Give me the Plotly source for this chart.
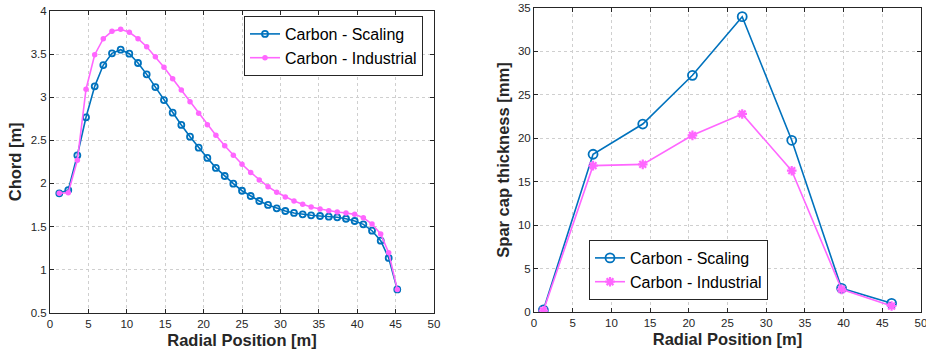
import plotly.graph_objects as go

# Left chart: chord distribution
chord_r = [1.21, 2.38, 3.56, 4.69, 5.82, 6.94, 8.07, 9.2, 10.33, 11.46, 12.59, 13.72,
           14.84, 15.97, 17.1, 18.23, 19.36, 20.49, 21.6, 22.75, 23.87, 25.0, 26.13,
           27.25, 28.39, 29.52, 30.64, 31.77, 32.9, 34.0, 35.16, 36.3, 37.4, 38.54,
           39.67, 40.8, 41.93, 43.06, 44.1, 45.22]
chord_scaling = [1.885, 1.923, 2.326, 2.767, 3.126, 3.373, 3.509, 3.551, 3.505, 3.397,
                 3.265, 3.118, 2.967, 2.82, 2.678, 2.542, 2.414, 2.295, 2.18, 2.086,
                 1.997, 1.915, 1.854, 1.796, 1.75, 1.711, 1.68, 1.657, 1.641, 1.63,
                 1.622, 1.614, 1.607, 1.59, 1.564, 1.525, 1.451, 1.335, 1.135, 0.77]
chord_industrial = [1.885, 1.892, 2.268, 3.092, 3.493, 3.679, 3.764, 3.787, 3.753, 3.679,
                    3.586, 3.47, 3.347, 3.215, 3.084, 2.948, 2.813, 2.681, 2.558, 2.437,
                    2.326, 2.222, 2.127, 2.04, 1.962, 1.897, 1.842, 1.796, 1.757, 1.726,
                    1.703, 1.683, 1.668, 1.657, 1.641, 1.602, 1.529, 1.413, 1.196, 0.77]

# Right chart: spar cap thickness
spar_r = [1.21, 7.63, 14.05, 20.47, 26.9, 33.3, 39.74, 46.2]
spar_scaling = [0.23, 18.16, 21.64, 27.25, 34.0, 19.77, 2.73, 1.0]
spar_industrial = [0.15, 16.85, 17.0, 20.34, 22.8, 16.27, 2.61, 0.69]

x_ticks = [0, 5, 10, 15, 20, 25, 30, 35, 40, 45, 50]

BLUE = "#0072BD"
PINK = "#FF66FF"
FONT = "Liberation Sans, Arial, sans-serif"
TXT = "#262626"

W, H = 926, 356


def fx(px):
    return px / W


def fy(py):
    return 1 - py / H


fig = go.Figure()

fig.add_trace(go.Scatter(
    x=chord_r, y=chord_scaling, mode="lines+markers", name="Carbon - Scaling",
    line=dict(color=BLUE, width=1.6),
    marker=dict(symbol="circle-open", size=6, color=BLUE, line=dict(width=1.8, color=BLUE)),
    xaxis="x", yaxis="y", legend="legend"))
fig.add_trace(go.Scatter(
    x=chord_r, y=chord_industrial, mode="lines+markers", name="Carbon - Industrial",
    line=dict(color=PINK, width=1.6),
    marker=dict(symbol="circle", size=5.5, color=PINK),
    xaxis="x", yaxis="y", legend="legend"))

fig.add_trace(go.Scatter(
    x=spar_r, y=spar_scaling, mode="lines+markers", name="Carbon - Scaling",
    line=dict(color=BLUE, width=1.6),
    marker=dict(symbol="circle-open", size=9, color=BLUE, line=dict(width=1.8, color=BLUE)),
    xaxis="x2", yaxis="y2", legend="legend2"))
fig.add_trace(go.Scatter(
    x=spar_r, y=spar_industrial, mode="lines+markers", name="Carbon - Industrial",
    line=dict(color=PINK, width=1.6),
    marker=dict(symbol="asterisk-open", size=8, color=PINK, line=dict(width=2.2, color=PINK)),
    xaxis="x2", yaxis="y2", legend="legend2"))

axis_common = dict(
    showline=True, linecolor=TXT, linewidth=1, mirror="allticks",
    ticks="inside", ticklen=4, tickcolor=TXT,
    showgrid=True, gridcolor="#cfcfcf", griddash="dot", gridwidth=1,
    zeroline=False, tickfont=dict(family=FONT, size=11.5, color=TXT),
    automargin=False, ticklabeloverflow="allow",
)
title_font = dict(family=FONT, size=16.5, color=TXT)

fig.update_layout(
    width=W, height=H,
    margin=dict(l=0, r=0, t=0, b=0),
    paper_bgcolor="white", plot_bgcolor="white",
    font=dict(family=FONT, color=TXT),
    xaxis=dict(domain=[fx(50), fx(434)], range=[0, 50], tickvals=x_ticks,
               title=dict(text="<b>Radial Position [m]</b>", font=title_font, standoff=5),
               anchor="y", **axis_common),
    yaxis=dict(domain=[fy(312.7), fy(11)], range=[0.5, 4], dtick=0.5,
               title=dict(text="<b>Chord [m]</b>", font=title_font, standoff=4),
               anchor="x", **axis_common),
    xaxis2=dict(domain=[fx(534), fx(921)], range=[0, 50], tickvals=x_ticks,
                title=dict(text="<b>Radial Position [m]</b>", font=title_font, standoff=5),
                anchor="y2", **axis_common),
    yaxis2=dict(domain=[fy(312), fy(8)], range=[0, 35], dtick=5,
                title=dict(text="<b>Spar cap thickness [mm]</b>", font=title_font, standoff=4),
                anchor="x2", **axis_common),
    legend=dict(x=fx(244), y=fy(16), xanchor="left", yanchor="top",
                bgcolor="white", bordercolor=TXT, borderwidth=1,
                font=dict(family=FONT, size=16, color="black"),
                tracegroupgap=0, itemwidth=30),
    legend2=dict(x=fx(589), y=fy(240), xanchor="left", yanchor="top",
                 bgcolor="white", bordercolor=TXT, borderwidth=1,
                 font=dict(family=FONT, size=16, color="black"),
                 tracegroupgap=0, itemwidth=30),
)

# remove the default 8px page margin so the figure fills the window exactly
fig.write_html("out.html",
               config={"displayModeBar": False},
               post_script="document.body.style.margin='0';document.body.style.overflow='hidden';")
